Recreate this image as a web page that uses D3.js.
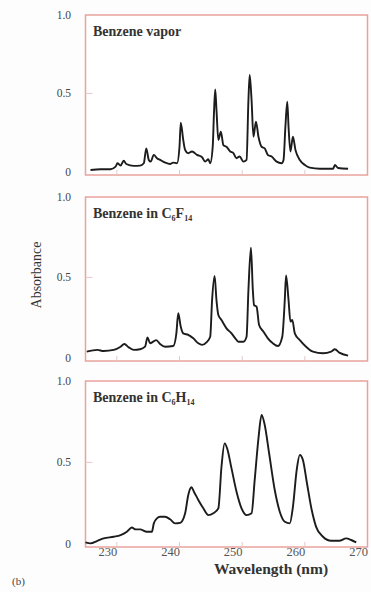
<!DOCTYPE html>
<html>
<head>
<meta charset="utf-8">
<script src="https://cdn.jsdelivr.net/npm/d3@7"></script>
<style>
  body { margin: 0; background: #fdfdfd; }
  svg { display: block; }
</style>
</head>
<body>
<script>
// Panel titles (digits after a letter are drawn as subscripts)
const panelTitles = ["Benzene vapor", "Benzene in C6F14", "Benzene in C6H14"];

// Benzene vapor
const vaporNm = [225.8, 227.4, 229.0, 229.8, 230.1, 230.6, 231.1, 231.5, 232.7, 233.7, 234.3, 234.7, 235.1, 235.4, 235.9, 236.4, 236.9, 237.7, 238.5, 239.0, 239.6, 240.0, 240.2, 240.6, 240.9, 241.4, 242.0, 242.8, 243.6, 244.1, 244.6, 244.9, 245.3, 245.5, 245.7, 245.9, 246.2, 246.6, 247.0, 247.5, 248.1, 248.6, 249.1, 249.6, 250.2, 250.7, 251.0, 251.2, 251.5, 251.8, 252.2, 252.6, 253.1, 253.6, 254.1, 254.7, 255.5, 256.3, 256.6, 256.9, 257.2, 257.4, 257.7, 258.1, 258.5, 259.2, 260.0, 260.8, 262.4, 264.5, 264.8, 265.3, 266.9];
const vaporAbs = [0.012, 0.017, 0.017, 0.033, 0.055, 0.04, 0.071, 0.05, 0.038, 0.04, 0.055, 0.15, 0.076, 0.065, 0.108, 0.087, 0.076, 0.059, 0.05, 0.059, 0.055, 0.16, 0.314, 0.203, 0.14, 0.119, 0.13, 0.108, 0.093, 0.065, 0.08, 0.055, 0.16, 0.373, 0.526, 0.395, 0.203, 0.256, 0.171, 0.16, 0.13, 0.119, 0.087, 0.098, 0.065, 0.076, 0.458, 0.618, 0.458, 0.224, 0.32, 0.224, 0.16, 0.15, 0.108, 0.098, 0.065, 0.055, 0.076, 0.288, 0.447, 0.288, 0.13, 0.224, 0.14, 0.076, 0.044, 0.027, 0.02, 0.02, 0.044, 0.025, 0.02];

// Benzene in C6F14
const fluoroNm = [225.2, 226.9, 227.9, 229.5, 230.6, 231.2, 231.9, 232.7, 233.7, 234.5, 234.9, 235.3, 235.8, 236.3, 236.9, 237.7, 239.0, 239.5, 239.8, 240.2, 240.6, 241.4, 242.2, 243.0, 243.6, 244.3, 244.9, 245.2, 245.6, 245.9, 246.2, 246.7, 247.5, 248.3, 248.9, 249.4, 250.2, 250.7, 251.0, 251.4, 251.7, 251.9, 252.3, 252.7, 253.4, 254.1, 254.9, 255.7, 256.4, 256.8, 257.0, 257.4, 257.7, 258.0, 258.4, 259.2, 260.2, 261.3, 262.9, 264.2, 264.8, 265.5, 266.9];
const fluoroAbs = [0.038, 0.049, 0.042, 0.049, 0.069, 0.086, 0.065, 0.049, 0.053, 0.069, 0.127, 0.09, 0.1, 0.11, 0.086, 0.069, 0.073, 0.152, 0.277, 0.193, 0.152, 0.142, 0.121, 0.09, 0.08, 0.096, 0.131, 0.359, 0.509, 0.359, 0.266, 0.235, 0.183, 0.152, 0.121, 0.1, 0.1, 0.131, 0.422, 0.685, 0.422, 0.328, 0.318, 0.204, 0.162, 0.121, 0.09, 0.073, 0.131, 0.359, 0.512, 0.359, 0.225, 0.235, 0.152, 0.11, 0.069, 0.038, 0.028, 0.038, 0.053, 0.032, 0.013];

// Benzene in C6H14
const hexaneNm = [225.0, 225.8, 226.9, 227.9, 229.5, 230.6, 231.6, 232.4, 233.0, 233.7, 234.8, 235.6, 235.9, 236.4, 236.9, 237.7, 238.5, 239.3, 240.1, 240.9, 241.4, 241.9, 242.3, 243.0, 243.8, 244.6, 245.4, 246.2, 246.7, 247.2, 247.6, 248.3, 249.1, 249.9, 250.7, 251.5, 252.0, 252.6, 253.1, 253.6, 254.3, 255.2, 256.0, 256.8, 257.6, 258.1, 258.7, 259.2, 259.7, 260.3, 261.1, 261.8, 262.9, 264.2, 265.5, 266.6, 267.4, 268.2];
const hexaneAbs = [0.008, 0.002, 0.018, 0.033, 0.043, 0.053, 0.074, 0.1, 0.088, 0.088, 0.074, 0.074, 0.125, 0.156, 0.166, 0.166, 0.15, 0.125, 0.128, 0.187, 0.3, 0.347, 0.32, 0.269, 0.218, 0.176, 0.187, 0.218, 0.473, 0.617, 0.586, 0.463, 0.32, 0.218, 0.176, 0.187, 0.392, 0.648, 0.791, 0.73, 0.556, 0.33, 0.197, 0.135, 0.125, 0.227, 0.453, 0.545, 0.514, 0.381, 0.207, 0.104, 0.043, 0.018, 0.018, 0.033, 0.023, 0.008];

const yTicks = [0, 0.5, 1.0];
const yTickLabels = ["0", "0.5", "1.0"];
const xTicks = [230, 240, 250, 260, 270];

const width = 371, height = 592;
const serif = "'Liberation Serif', 'Times New Roman', serif";
const frameColor = "#e9a39c";
const tickColor = "#e6c9c6";

const svg = d3.select("body").append("svg")
    .attr("width", width)
    .attr("height", height)
    .style("font-family", serif);

const x = d3.scaleLinear().domain([225, 270]).range([85.5, 367.5]);

// each panel: frame top and bottom in px
const panels = [
    { top: 15, bottom: 175, nm: vaporNm, abs: vaporAbs },
    { top: 197, bottom: 361, nm: fluoroNm, abs: fluoroAbs },
    { top: 381, bottom: 547, nm: hexaneNm, abs: hexaneAbs }
];

panels.forEach((p, i) => {
    const y = d3.scaleLinear().domain([-0.02, 1]).range([p.bottom, p.top]);
    const g = svg.append("g");

    // frame
    g.append("rect")
        .attr("x", x.range()[0])
        .attr("y", p.top)
        .attr("width", x.range()[1] - x.range()[0])
        .attr("height", p.bottom - p.top)
        .attr("fill", "#fff")
        .attr("stroke", frameColor)
        .attr("stroke-width", 1.5);

    // small ticks pointing inward
    g.selectAll("line.xt")
        .data(xTicks.slice(0, -1))
        .join("line")
        .attr("x1", d => x(d)).attr("x2", d => x(d))
        .attr("y1", p.bottom).attr("y2", p.bottom - 5)
        .attr("stroke", tickColor);

    g.append("line")
        .attr("x1", x.range()[0]).attr("x2", x.range()[0] + 7)
        .attr("y1", y(0.5)).attr("y2", y(0.5))
        .attr("stroke", tickColor);

    // y tick labels
    g.selectAll("text.yl")
        .data(yTicks)
        .join("text")
        .attr("x", 71)
        .attr("y", d => y(d))
        .attr("dy", "0.35em")
        .attr("text-anchor", "end")
        .attr("font-size", 11.5)
        .attr("fill", "#444")
        .text((d, j) => yTickLabels[j]);

    // spectrum
    const pts = p.nm.map((w, j) => [w, p.abs[j]]);
    const line = d3.line()
        .x(d => x(d[0]))
        .y(d => y(d[1]))
        .curve(d3.curveMonotoneX);
    g.append("path")
        .datum(pts)
        .attr("d", line)
        .attr("fill", "none")
        .attr("stroke", "#1c1c1c")
        .attr("stroke-width", 1.9)
        .attr("stroke-linejoin", "round");

    // title with subscripts
    const title = g.append("text")
        .attr("x", 93)
        .attr("y", p.top + 24)
        .attr("font-size", 14)
        .attr("font-weight", "bold")
        .attr("fill", "#333");
    panelTitles[i].split(/(?<=[A-Z])(\d+)/).forEach(part => {
        if (part === "") return;
        if (/^\d+$/.test(part)) {
            title.append("tspan").attr("font-size", 8).attr("dy", 3).text(part);
        } else {
            title.append("tspan").attr("dy", title.selectAll("tspan").size() ? -3 : 0).text(part);
        }
    });

    // x tick labels on bottom panel
    if (i === panels.length - 1) {
        g.selectAll("text.xl")
            .data(xTicks)
            .join("text")
            .attr("x", d => x(d) - 9)
            .attr("y", p.bottom + 9)
            .attr("text-anchor", "middle")
            .attr("font-size", 12.5)
            .attr("fill", "#555")
            .text(d => d);
    }
});

// axis titles
svg.append("text")
    .attr("transform", "translate(41,275) rotate(-90)")
    .attr("text-anchor", "middle")
    .attr("font-size", 14)
    .attr("fill", "#333")
    .text("Absorbance");

svg.append("text")
    .attr("x", 271)
    .attr("y", 574)
    .attr("text-anchor", "middle")
    .attr("font-size", 15.5)
    .attr("font-weight", "bold")
    .attr("fill", "#333")
    .text("Wavelength (nm)");

svg.append("text")
    .attr("x", 12)
    .attr("y", 585)
    .attr("font-size", 11)
    .attr("fill", "#444")
    .text("(b)");
</script>
</body>
</html>
